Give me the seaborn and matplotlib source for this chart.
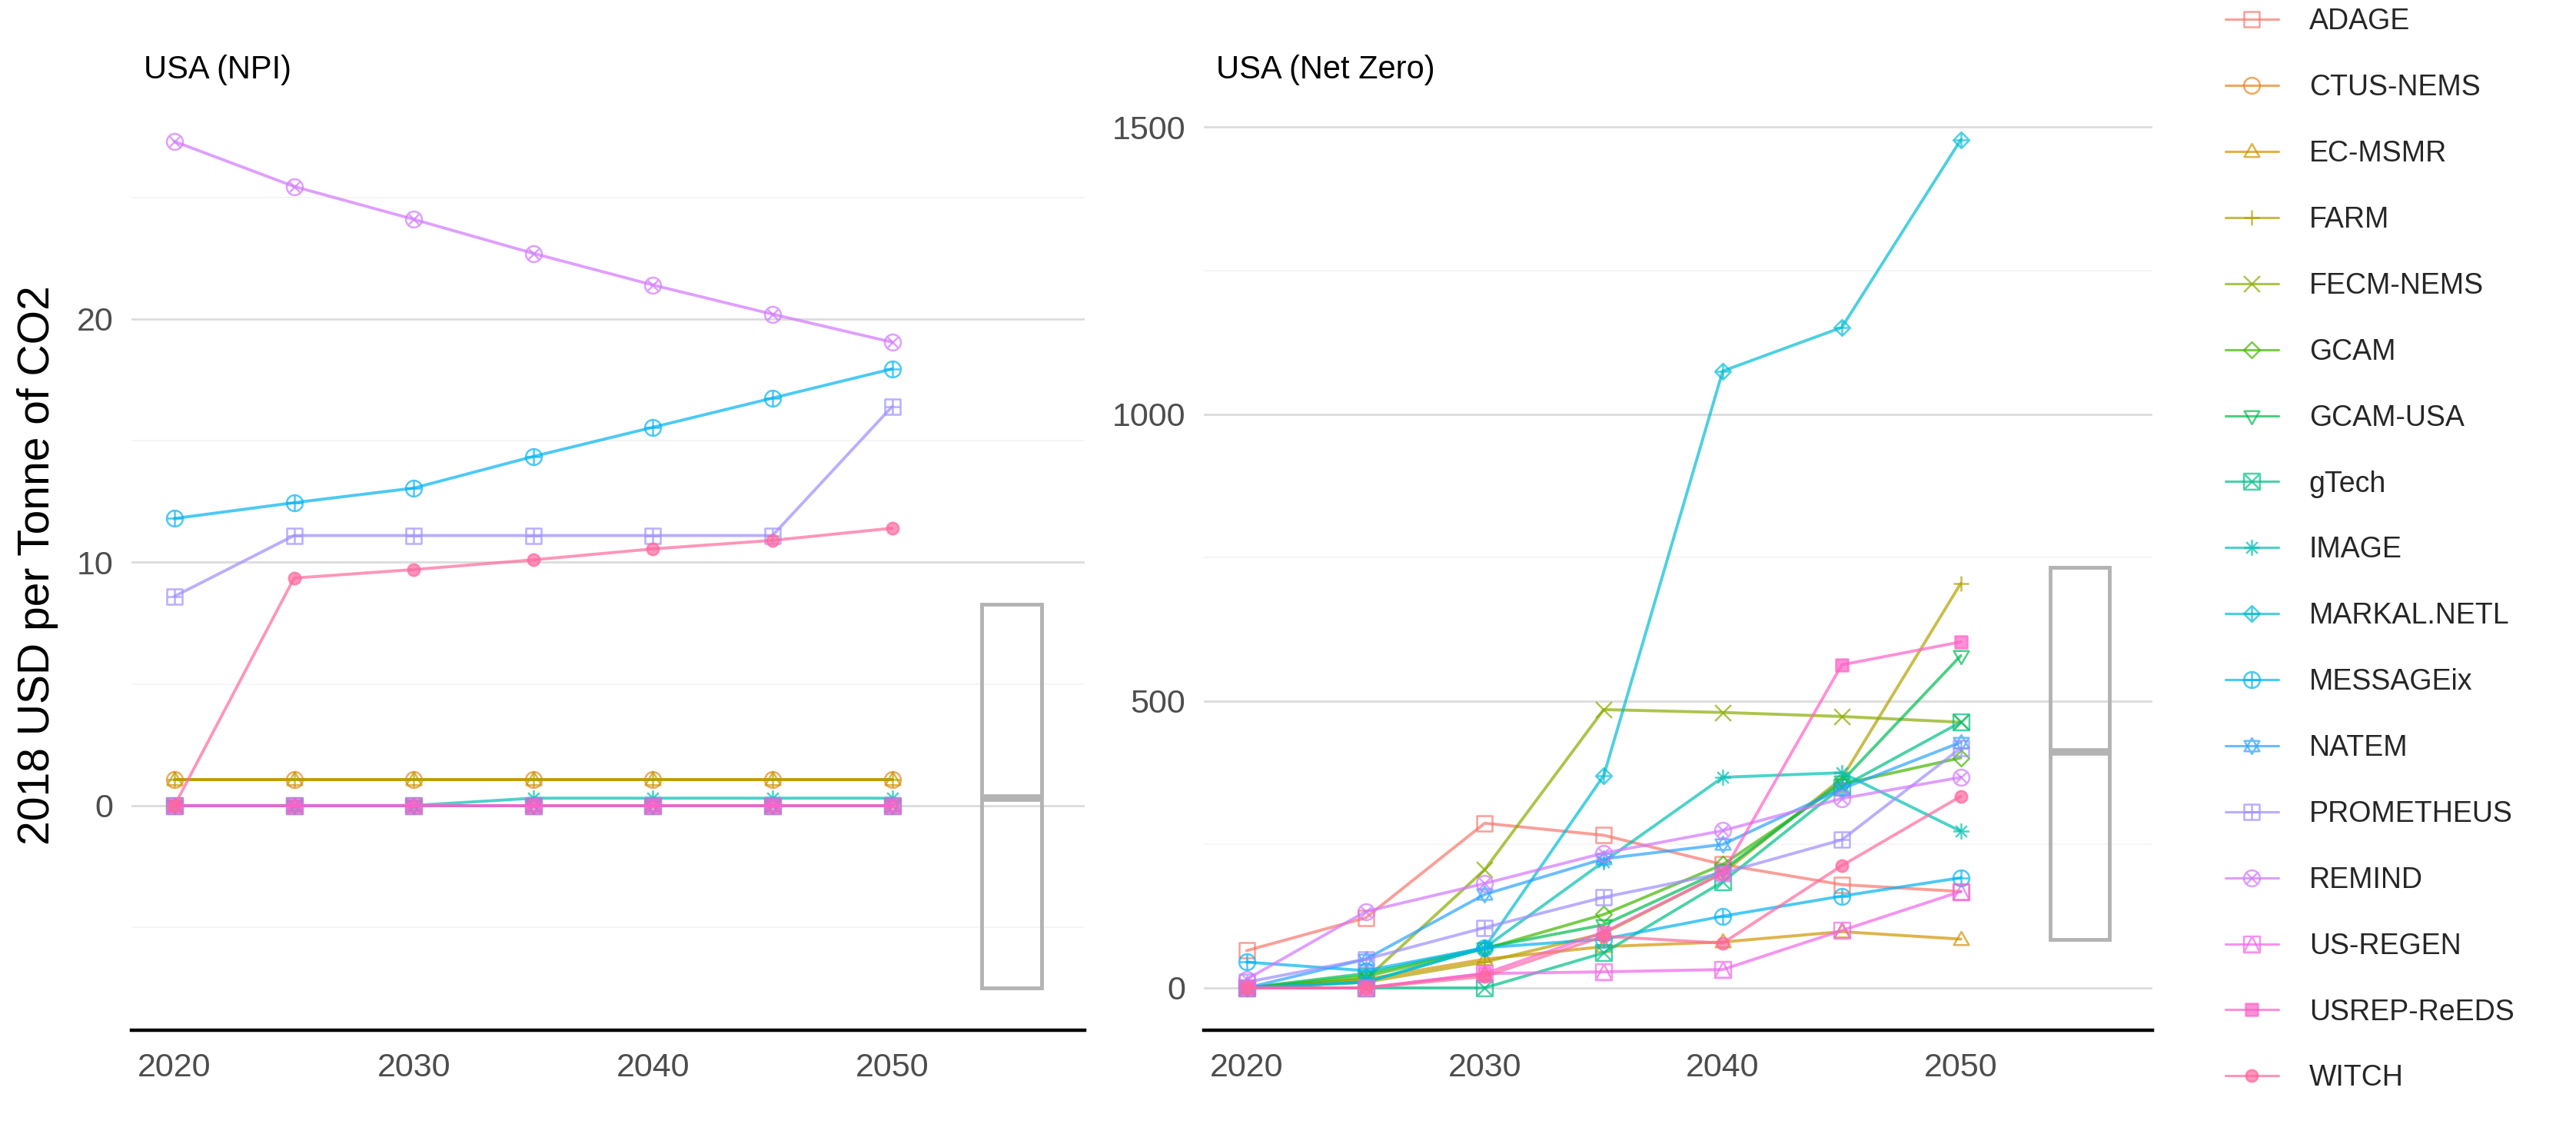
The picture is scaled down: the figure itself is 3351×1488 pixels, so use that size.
import numpy as np
import pandas as pd
import seaborn as sns
import matplotlib.pyplot as plt
from matplotlib.path import Path
from matplotlib.transforms import Affine2D
from matplotlib.lines import Line2D

# ---- data ----
years = [2020, 2025, 2030, 2035, 2040, 2045, 2050]
models = ['ADAGE', 'CTUS-NEMS', 'EC-MSMR', 'FARM', 'FECM-NEMS', 'GCAM', 'GCAM-USA',
          'gTech', 'IMAGE', 'MARKAL.NETL', 'MESSAGEix', 'NATEM', 'PROMETHEUS',
          'REMIND', 'US-REGEN', 'USREP-ReEDS', 'WITCH']

npi_price = {
    'CTUS-NEMS':   [1.08, 1.08, 1.08, 1.08, 1.08, 1.08, 1.08],
    'EC-MSMR':     [1.08, 1.08, 1.08, 1.08, 1.08, 1.08, 1.08],
    'FARM':        [1.08, 1.08, 1.08, 1.08, 1.08, 1.08, 1.08],
    'GCAM-USA':    [0, 0, 0, 0, 0, 0, 0],
    'gTech':       [0, 0, 0, 0, 0, 0, 0],
    'IMAGE':       [0, 0, 0, 0.3, 0.3, 0.3, 0.3],
    'MESSAGEix':   [11.8, 12.45, 13.05, 14.35, 15.55, 16.75, 17.95],
    'NATEM':       [0, 0, 0, 0, 0, 0, 0],
    'PROMETHEUS':  [8.6, 11.1, 11.1, 11.1, 11.1, 11.1, 16.4],
    'REMIND':      [27.3, 25.45, 24.1, 22.7, 21.4, 20.2, 19.05],
    'US-REGEN':    [0, 0, 0, 0, 0, 0, 0],
    'USREP-ReEDS': [0, 0, 0, 0, 0, 0, 0],
    'WITCH':       [0, 9.35, 9.7, 10.1, 10.55, 10.9, 11.4],
}

netzero_price = {
    'ADAGE':       [65, 122, 287, 266, 215, 180, 168],
    'EC-MSMR':     [0, 15, 50, 72, 80, 98, 85],
    'FARM':        [0, 10, 45, 95, 200, 365, 705],
    'FECM-NEMS':   [0, 15, 206, 485, 480, 473, 463],
    'GCAM':        [0, 20, 68, 128, 215, 355, 401],
    'GCAM-USA':    [0, 25, 70, 110, 205, 360, 579],
    'gTech':       [0, 0, 0, 61, 185, 350, 463],
    'IMAGE':       [0, 10, 70, 220, 367, 375, 273],
    'MARKAL.NETL': [0, 10, 70, 370, 1075, 1151, 1478],
    'MESSAGEix':   [45, 30, 70, 85, 125, 160, 192],
    'NATEM':       [0, 50, 163, 225, 250, 347, 428],
    'PROMETHEUS':  [10, 50, 105, 158, 200, 258, 418],
    'REMIND':      [15, 133, 182, 235, 274, 330, 367],
    'US-REGEN':    [0, 0, 25, 28, 32, 100, 168],
    'USREP-ReEDS': [0, 0, 25, 97, 200, 563, 603],
    'WITCH':       [0, 0, 20, 90, 78, 213, 334],
}

# summary box shown right of each panel: low, median, high
box_year = 2055
npi_box = [-7.5, 0.32, 8.26]
netzero_box = [84, 411, 733]

panels = ['USA (NPI)', 'USA (Net Zero)']


def hue_color(h, c=100.0, l=65.0):
    # ggplot2 style hcl colour (polar Luv -> sRGB)
    hr = np.radians(h)
    u, v = c * np.cos(hr), c * np.sin(hr)
    xn, yn, zn = 95.047, 100.0, 108.883
    un = 4 * xn / (xn + 15 * yn + 3 * zn)
    vn = 9 * yn / (xn + 15 * yn + 3 * zn)
    y = yn * ((l + 16) / 116) ** 3
    up = u / (13 * l) + un
    vp = v / (13 * l) + vn
    x = y * 9 * up / (4 * vp)
    z = y * (12 - 3 * up - 20 * vp) / (4 * vp)
    xyz = np.array([x, y, z]) / 100
    m = np.array([[3.2404542, -1.5371385, -0.4985314],
                  [-0.9692660, 1.8760108, 0.0415560],
                  [0.0556434, -0.2040259, 1.0572252]])
    rgb = m @ xyz
    rgb = np.where(rgb <= 0.0031308, 12.92 * rgb, 1.055 * np.clip(rgb, 0, None) ** (1 / 2.4) - 0.055)
    return tuple(np.clip(rgb, 0, 1))


n = len(models)
palette = {m: hue_color(15 + i * 360 / n) for i, m in enumerate(models)}


def poly(verts):
    codes = [Path.MOVETO] + [Path.LINETO] * (len(verts) - 1) + [Path.CLOSEPOLY]
    return Path(verts + [verts[0]], codes)


def segs(pts):
    codes = [Path.MOVETO, Path.LINETO] * (len(pts) // 2)
    return Path(pts, codes)


square = poly([(-1, -1), (1, -1), (1, 1), (-1, 1)])
circle = Path.unit_circle()
tri_up = poly([(0, 1), (-0.95, -0.65), (0.95, -0.65)])
tri_down = tri_up.transformed(Affine2D().scale(1, -1))
plus = segs([(-1, 0), (1, 0), (0, -1), (0, 1)])
diag = segs([(-1, -1), (1, 1), (-1, 1), (1, -1)])
diag_in = diag.transformed(Affine2D().scale(0.707))
diamond = poly([(0, 1), (1, 0), (0, -1), (-1, 0)])
sq_tri = poly([(0, 1), (-1, -1), (1, -1)])
cmp = Path.make_compound_path

shapes = {
    'ADAGE': (square, False), 'CTUS-NEMS': (circle, False), 'EC-MSMR': (tri_up, False),
    'FARM': (plus, False), 'FECM-NEMS': (diag_in, False), 'GCAM': (diamond, False),
    'GCAM-USA': (tri_down, False), 'gTech': (cmp(square, diag), False),
    'IMAGE': (cmp(plus, diag_in), False), 'MARKAL.NETL': (cmp(diamond, plus), False),
    'MESSAGEix': (cmp(circle, plus), False), 'NATEM': (cmp(tri_up, tri_down), False),
    'PROMETHEUS': (cmp(square, plus), False), 'REMIND': (cmp(circle, diag_in), False),
    'US-REGEN': (cmp(square, sq_tri), False), 'USREP-ReEDS': (square, True),
    'WITCH': (circle, True),
}

rows = []
for panel, table in zip(panels, [npi_price, netzero_price]):
    for m, vals in table.items():
        for yr, v in zip(years, vals):
            rows.append({'panel': panel, 'model': m, 'year': yr, 'price': v})
df = pd.DataFrame(rows)

sns.set_theme(style='white')
plt.rcParams['font.family'] = ['Liberation Sans', 'DejaVu Sans']

fig = plt.figure(figsize=(33.51, 14.88), dpi=100)
ax_l = fig.add_axes([171 / 3351, 1 - 1340 / 1488, 1240 / 3351, 1211 / 1488])
ax_r = fig.add_axes([1566 / 3351, 1 - 1340 / 1488, 1234 / 3351, 1211 / 1488])

LW, MS, ALPHA = 2.8, 15, 0.7

for ax, panel, box, ylim, yt, ymin in [
        (ax_l, panels[0], npi_box, (-9.24, 29.04), [0, 10, 20], [-5, 5, 15, 25]),
        (ax_r, panels[1], netzero_box, (-73.75, 1548.75), [0, 500, 1000, 1500], [250, 750, 1250])]:
    sub = df[df['panel'] == panel]
    for m in models:
        d = sub[sub['model'] == m]
        if d.empty:
            continue
        mk, filled = shapes[m]
        c = palette[m]
        sns.lineplot(data=d, x='year', y='price', ax=ax, color=c, marker=mk,
                     markersize=MS * (0.75 if filled else 1.0),
                     markerfacecolor=c if filled else 'none', markeredgecolor=c,
                     markeredgewidth=1.8, linewidth=LW, alpha=ALPHA,
                     errorbar=None, legend=False)
    lo, med, hi = box
    ax.bar([box_year], [hi - lo], bottom=[lo], width=2.5, fill=False,
           edgecolor='#B3B3B3', linewidth=3.5, zorder=3)
    ax.hlines([med], box_year - 1.25, box_year + 1.25, color='#B3B3B3', linewidth=7, zorder=3)

    ax.set_xlim(2018.2, 2058.05)
    ax.set_ylim(*ylim)
    ax.set_xticks([2020, 2030, 2040, 2050])
    ax.set_yticks(yt)
    ax.set_yticks(ymin, minor=True)
    ax.grid(axis='y', which='major', color='#DCDCDC', linewidth=2)
    ax.grid(axis='y', which='minor', color='#F3F3F3', linewidth=1.2)
    ax.set_axisbelow(True)
    for s in ['top', 'right', 'left']:
        ax.spines[s].set_visible(False)
    ax.spines['bottom'].set_color('black')
    ax.spines['bottom'].set_linewidth(3.2)
    ax.tick_params(axis='both', which='major', length=9, width=2.5, color='black',
                   labelsize=31, labelcolor='#4D4D4D')
    ax.tick_params(axis='y', which='major', pad=8)
    ax.tick_params(axis='y', which='minor', length=0)
    ax.tick_params(axis='x', which='major', pad=12)
    ax.set_xlabel('')
    ax.set_ylabel('')
    ax.text(0.013, 1.022, panel, transform=ax.transAxes, fontsize=30,
            ha='left', va='baseline', color='black')

fig.text(49 / 3351, 1 - 735 / 1488, '2018 USD per Tonne of CO2', rotation=90,
         ha='center', va='center', fontsize=41, color='black')

handles = []
for m in models:
    mk, filled = shapes[m]
    c = palette[m]
    handles.append(Line2D([0], [0], color=c, marker=mk, linewidth=LW * 0.8, alpha=ALPHA,
                          markersize=MS * (0.75 if filled else 1.0),
                          markerfacecolor=c if filled else 'none',
                          markeredgecolor=c, markeredgewidth=1.8))
fig.legend(handles, models, loc='upper left', bbox_to_anchor=(2895 / 3351, 0.993),
           frameon=False, fontsize=27, handlelength=1.83, handletextpad=1.07,
           labelspacing=1.33, borderpad=0, borderaxespad=0)

fig.savefig('out.png', dpi=100, facecolor='white')
